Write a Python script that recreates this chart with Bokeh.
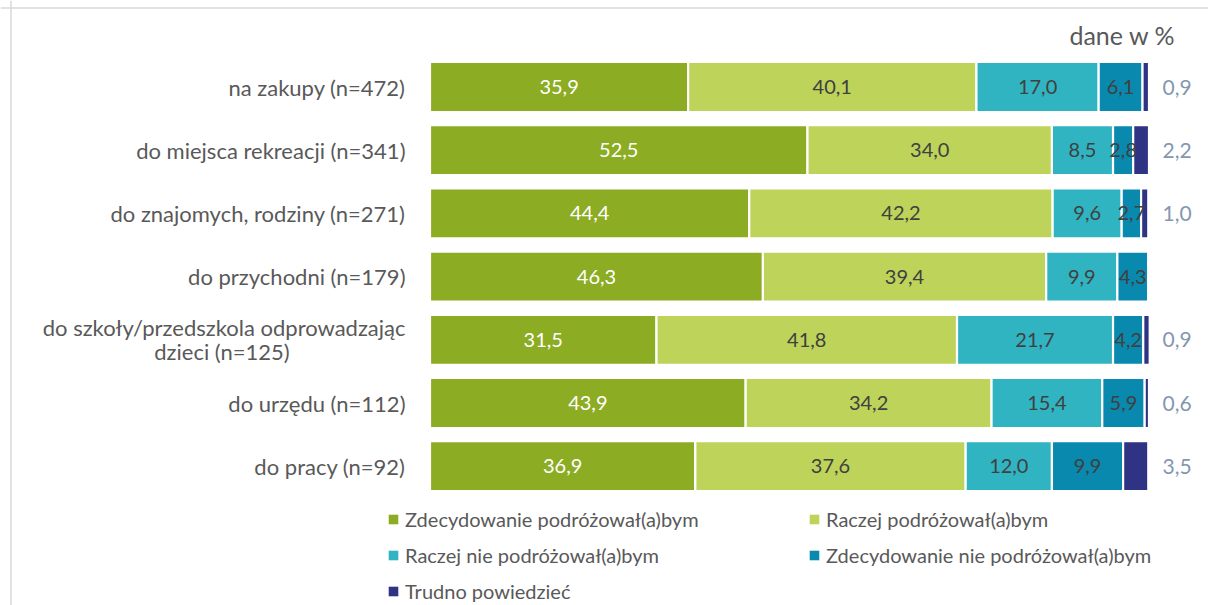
import numpy as np
from bokeh.plotting import figure
from bokeh.models import ColumnDataSource, Range1d, Legend, LegendItem, Label, Span
from bokeh.core.properties import value
from bokeh.embed import file_html
from bokeh.resources import INLINE

categories = [
    "na zakupy (n=472)",
    "do miejsca rekreacji (n=341)",
    "do znajomych, rodziny (n=271)",
    "do przychodni (n=179)",
    "do szkoły/przedszkola odprowadzając\ndzieci (n=125)",
    "do urzędu (n=112)",
    "do pracy (n=92)",
]
series_names = [
    "Zdecydowanie podróżował(a)bym",
    "Raczej podróżował(a)bym",
    "Raczej nie podróżował(a)bym",
    "Zdecydowanie nie podróżował(a)bym",
    "Trudno powiedzieć",
]
zdecydowanie_tak = [35.9, 52.5, 44.4, 46.3, 31.5, 43.9, 36.9]
raczej_tak = [40.1, 34.0, 42.2, 39.4, 41.8, 34.2, 37.6]
raczej_nie = [17.0, 8.5, 9.6, 9.9, 21.7, 15.4, 12.0]
zdecydowanie_nie = [6.1, 2.8, 2.7, 4.3, 4.2, 5.9, 9.9]
trudno = [0.9, 2.2, 1.0, 0.0, 0.9, 0.6, 3.5]
colors = ["#8CAC23", "#BDD35A", "#31B4C1", "#0A89AE", "#2E3384"]
label_colors = ["white", "#404040", "#404040", "#404040"]
unit_note = "dane w %"

FONT = "Lato"
series = [zdecydowanie_tak, raczej_tak, raczej_nie, zdecydowanie_nie, trudno]
keys = ["s0", "s1", "s2", "s3", "s4"]
rows = list(range(len(categories)))

data = {"y": rows}
for k, s in zip(keys, series):
    data[k] = s
src = ColumnDataSource(data)

W, H = 1208, 605
px_per = 7.19      # pixels per percent
x0 = 429.5         # pixel position of 0 %
row_px = 63.2      # pixels between rows
y0 = 86.5          # pixel position of first row centre

def xd(px):
    return (px - x0) / px_per

def yd(py):
    return (py - y0) / row_px

p = figure(width=W, height=H, output_backend="svg", toolbar_location=None,
           x_range=Range1d(xd(0), xd(W)), y_range=Range1d(yd(H), yd(0)),
           x_axis_type=None, y_axis_type=None, min_border=0)
p.grid.visible = False
p.outline_line_color = None
p.background_fill_color = "white"

p.hbar_stack(keys, y="y", height=50 / row_px, fill_color=colors,
             line_color="white", line_width=2.2, source=src)

# value labels
for si in range(4):
    lx, ly, lt = [], [], []
    for r in rows:
        cum = sum(series[k][r] for k in range(si))
        v = series[si][r]
        if v > 0:
            lx.append(cum + v / 2)
            ly.append(r)
            lt.append(f"{v:.1f}".replace(".", ","))
    p.text(x=lx, y=ly, text=lt, text_align="center", text_baseline="middle",
           text_font=value(FONT), text_font_size="20px", text_color=label_colors[si])

ox, oy, ot = [], [], []
for r in rows:
    v = trudno[r]
    if v > 0:
        ox.append(xd(1162))
        oy.append(r)
        ot.append(f"{v:.1f}".replace(".", ","))
p.text(x=ox, y=oy, text=ot, text_align="left", text_baseline="middle",
       text_font=value(FONT), text_font_size="21px", text_color="#8497B0")

# category labels
sx, sy, st = [], [], []
mx, my, mt = [], [], []
for r, c in zip(rows, categories):
    lines = c.split("\n")
    if len(lines) == 1:
        sx.append(xd(405)); sy.append(r); st.append(c)
    else:
        sx.append(xd(405)); sy.append(r - 12 / row_px); st.append(lines[0])
        mx.append(xd(405 - 367 / 2)); my.append(r + 12 / row_px); mt.append(lines[1])
p.text(x=sx, y=sy, text=st, text_align="right", text_baseline="middle",
       text_font=value(FONT), text_font_size="22px", text_color="#595959")
p.text(x=mx, y=my, text=mt, text_align="center", text_baseline="middle",
       text_font=value(FONT), text_font_size="22px", text_color="#595959")

p.add_layout(Label(x=1175, y=H - 34, x_units="screen", y_units="screen", text=unit_note,
                   text_align="right", text_baseline="middle", text_font=FONT,
                   text_font_size="25px", text_color="#595959"))

# border of the chart area
p.add_layout(Span(location=xd(10.5), dimension="height", line_color="#D9D9D9", line_width=1.5))
p.add_layout(Span(location=yd(7.5), dimension="width", line_color="#D9D9D9", line_width=1.5))

# legend swatches (renderers with a single empty point, so only the legend shows them)
swatches = [p.rect(x=[np.nan], y=[np.nan], width=1, height=1, fill_color=c, line_color=None)
            for c in colors]
legend = Legend(items=[LegendItem(label=n, renderers=[r]) for n, r in zip(series_names, swatches)],
                ncols=2, orientation="horizontal", location=(387, 2),
                glyph_width=12, glyph_height=12, label_width=391, label_standoff=6,
                spacing=12, padding=0, margin=0, border_line_color=None,
                background_fill_alpha=0, label_text_font=FONT,
                label_text_font_size="20px", label_text_color="#595959", label_height=22)
p.add_layout(legend)

open("out.html", "w").write(file_html(p, INLINE))
